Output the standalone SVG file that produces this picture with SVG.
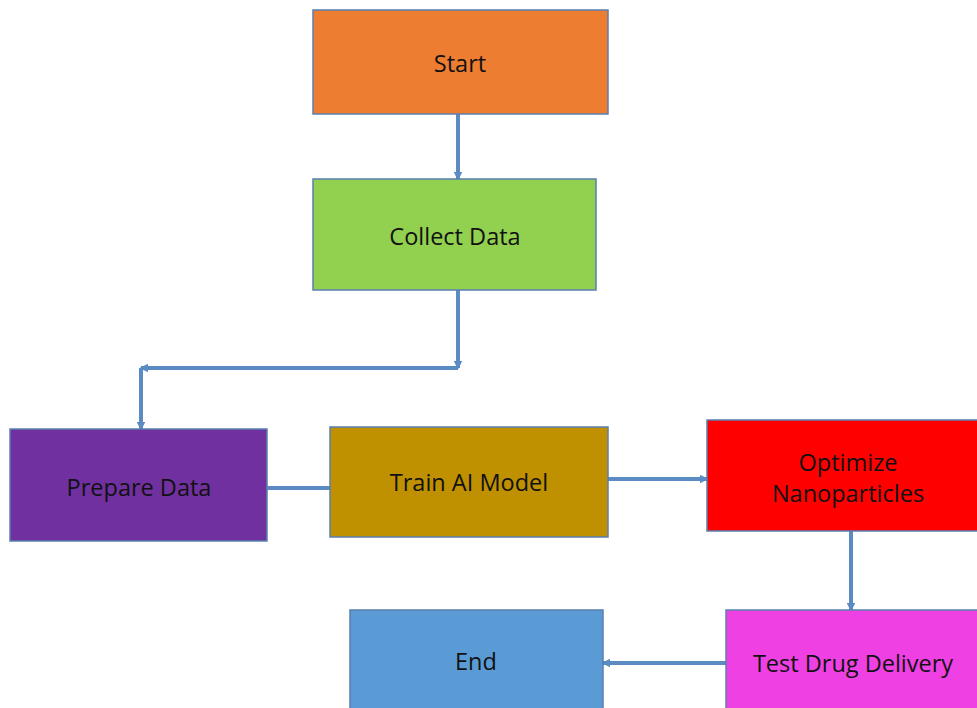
<svg xmlns="http://www.w3.org/2000/svg" width="977" height="708" viewBox="0 0 977 708">
<style>
.box{stroke:#5B7FB0;stroke-width:1.5}
.lbl{font-family:"Open Sans","Liberation Sans",sans-serif;font-size:23.5px;fill:#111;text-anchor:middle;dominant-baseline:central}
.conn{fill:none;stroke:#5A8BC2;stroke-width:4}
</style>
<defs>
<marker id="ah" viewBox="0 0 6 6" refX="5" refY="3" markerWidth="2.2" markerHeight="2.2" orient="auto" markerUnits="strokeWidth">
<path d="M0,0 L6,3 L0,6 z" fill="#5A8BC2"/>
</marker>
</defs>
<rect width="977" height="708" fill="#ffffff"/>
<g id="connectors">
<path class="conn" d="M458,114 V179" marker-end="url(#ah)"/>
<path class="conn" d="M458,290 V368" marker-end="url(#ah)"/>
<path class="conn" d="M458,368 H141" marker-end="url(#ah)"/>
<path class="conn" d="M141,368 V429" marker-end="url(#ah)"/>
<path class="conn" d="M267,488 H330"/>
<path class="conn" d="M608,479 H707" marker-end="url(#ah)"/>
<path class="conn" d="M851,531 V610" marker-end="url(#ah)"/>
<path class="conn" d="M726,663 H603" marker-end="url(#ah)"/>
</g>
<g id="start">
<rect class="box" x="313" y="10" width="295" height="104" fill="#ED7D31"/>
<text class="lbl" x="460" y="63">Start</text>
</g>
<g id="collect">
<rect class="box" x="313" y="179" width="283" height="111" fill="#92D050"/>
<text class="lbl" x="455" y="236">Collect Data</text>
</g>
<g id="prepare">
<rect class="box" x="10" y="429" width="257" height="112" fill="#7030A0"/>
<text class="lbl" x="139" y="487">Prepare Data</text>
</g>
<g id="train">
<rect class="box" x="330" y="427" width="278" height="110" fill="#BF9000"/>
<text class="lbl" x="469" y="482">Train AI Model</text>
</g>
<g id="optimize">
<rect class="box" x="707" y="420" width="275" height="111" fill="#FF0000"/>
<text class="lbl" x="848" y="462">Optimize</text>
<text class="lbl" x="848" y="493">Nanoparticles</text>
</g>
<g id="test">
<rect class="box" x="726" y="610" width="256" height="104" fill="#EF41E3"/>
<text class="lbl" x="853" y="663">Test Drug Delivery</text>
</g>
<g id="end">
<rect class="box" x="350" y="610" width="253" height="104" fill="#5B9BD5"/>
<text class="lbl" x="476" y="661">End</text>
</g>
</svg>
